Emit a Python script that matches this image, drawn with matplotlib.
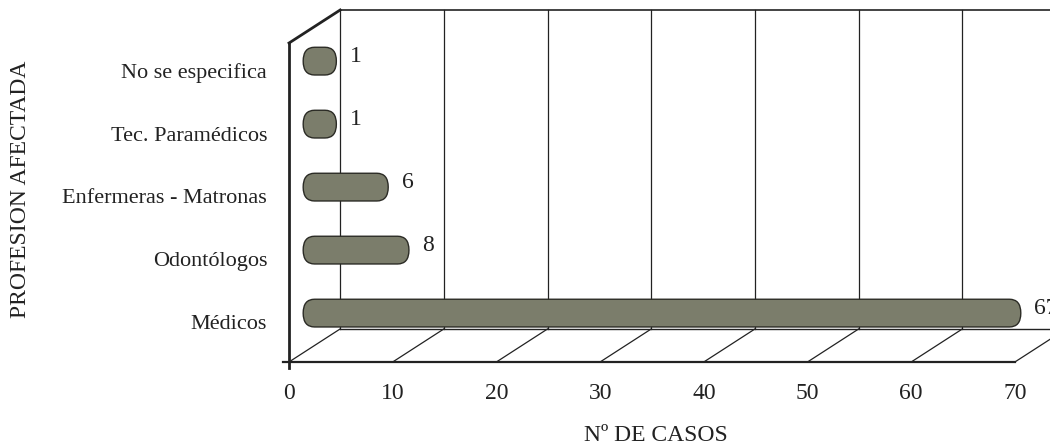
import matplotlib
matplotlib.use('Agg')
import matplotlib.pyplot as plt
from matplotlib.patches import FancyBboxPatch

# data
profesiones = ['Médicos', 'Odontólogos', 'Enfermeras - Matronas',
               'Tec. Paramédicos', 'No se especifica']
casos = [67, 8, 6, 1, 1]
ticks = [0, 10, 20, 30, 40, 50, 60, 70]

plt.rcParams['font.family'] = ['Liberation Serif', 'DejaVu Serif']
ink = '#222222'
bar_color = '#7b7d6b'

fig = plt.figure(figsize=(10.5, 4.47), dpi=100)
ax = fig.add_axes([0, 0, 1, 1])
ax.set_xlim(-27.87, 73.38)
ax.set_ylim(-1.937, 5.159)
ax.axis('off')

# fake 3d depth
dx, dy = 4.93, 0.524
floor = -0.587
top = 4.476

# back wall gridlines
for t in ticks:
    ax.plot([t + dx, t + dx], [floor + dy, top + dy], color=ink, lw=0.9, zorder=1)
ax.plot([dx, 70 + dx], [top + dy, top + dy], color=ink, lw=1.2, zorder=1)
ax.plot([dx, 70 + dx], [floor + dy, floor + dy], color=ink, lw=1.0, zorder=1)

# floor diagonals
for t in ticks:
    ax.plot([t, t + dx], [floor, floor + dy], color=ink, lw=0.9, zorder=1)
ax.plot([-0.6, 70], [floor, floor], color=ink, lw=1.6, zorder=4)

# left wall
ax.plot([0, 0], [floor - 0.1, top], color=ink, lw=2.0, zorder=4)
ax.plot([0, dx], [top, top + dy], color=ink, lw=2.0, zorder=4)

# bars (cylinders at mid depth)
h = 0.44
cap = 1.1
for i, v in enumerate(casos):
    y0 = i + dy * 0.36 - h / 2
    x0 = dx / 2 - cap
    p = FancyBboxPatch((x0, y0), v + 2 * cap, h,
                       boxstyle='round,pad=0,rounding_size=%g' % cap,
                       mutation_aspect=h / (2 * cap),
                       facecolor=bar_color, edgecolor='#2b2b25', lw=1.0,
                       zorder=3)
    ax.add_patch(p)
    ax.text(x0 + v + 2 * cap + 1.3, i + 0.26, str(v), ha='left', va='center',
            fontsize=17, color=ink, zorder=5)

# category labels
for i, name in enumerate(profesiones):
    ax.text(-2.1, i, name, ha='right', va='center', fontsize=16, color=ink)

# tick labels
for t in ticks:
    ax.text(t, -1.08, str(t), ha='center', va='center', fontsize=17, color=ink)

ax.text(35.4, -1.76, 'Nº DE CASOS', ha='center', va='center',
        fontsize=17, color=ink)
ax.text(-25.9, 2.16, 'PROFESION AFECTADA', ha='center', va='center',
        rotation=90, fontsize=17, color=ink)

fig.savefig('out.png', dpi=100)
